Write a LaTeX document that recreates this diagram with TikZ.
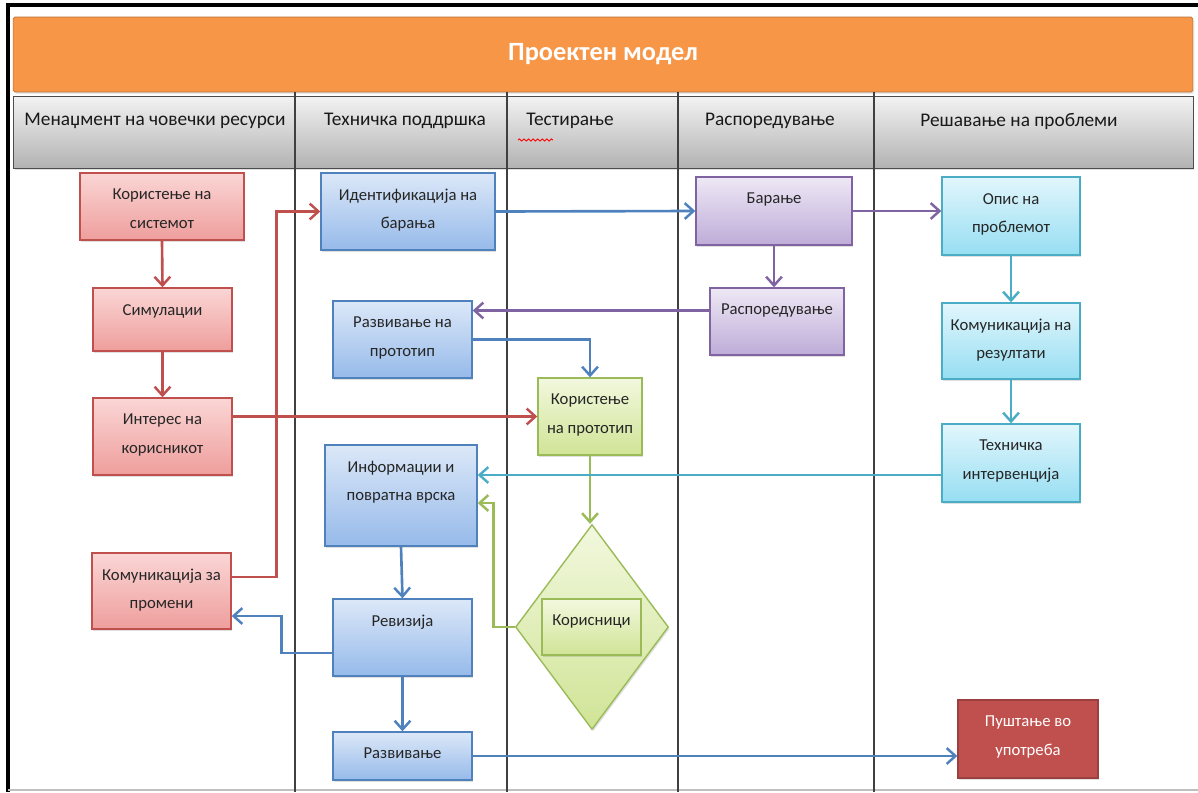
\documentclass[tikz,border=0pt]{standalone}
\usepackage{fontspec}
\setmainfont{Carlito}
\usepackage{tikz}
\usetikzlibrary{shapes.geometric,arrows.meta,shadows,calc,decorations.pathmorphing}

\begin{document}
\begin{tikzpicture}[x=0.02cm,y=-0.02cm,
  box/.style={draw,line width=0.8pt,inner sep=0pt,
    drop shadow={opacity=0.25,shadow xshift=0.8pt,shadow yshift=-1pt}},
  boxtext/.style={anchor=north,align=center,inner sep=4pt,yshift=-0.19cm,
    font=\fontsize{9.5}{16}\selectfont,text=black!85},
  redbox/.style={box,draw=cRed,top color=cRedT,bottom color=cRedB},
  bluebox/.style={box,draw=cBlue,top color=cBlueT,bottom color=cBlueB},
  purplebox/.style={box,draw=cPurple,top color=cPurpleT,bottom color=cPurpleB},
  tealbox/.style={box,draw=cTeal,top color=cTealT,bottom color=cTealB},
  greenbox/.style={box,draw=cGreen,top color=cGreenT,bottom color=cGreenB},
  flow/.style={line width=1.5pt,-{Straight Barb[length=5pt,width=9pt,line width=1.4pt]}},
  lane/.style={line width=0.6pt,draw=black!75},
  lanehead/.style={font=\fontsize{11}{13}\selectfont,text=black!90},
]
%
\useasboundingbox (0,0) rectangle (1198,792);
%
\definecolor{cRed}{RGB}{192,80,77}
\definecolor{cRedT}{RGB}{250,214,213}
\definecolor{cRedB}{RGB}{238,158,156}
\definecolor{cBlue}{RGB}{79,129,189}
\definecolor{cBlueT}{RGB}{220,232,248}
\definecolor{cBlueB}{RGB}{150,186,234}
\definecolor{cPurple}{RGB}{128,100,162}
\definecolor{cPurpleT}{RGB}{238,232,245}
\definecolor{cPurpleB}{RGB}{190,172,216}
\definecolor{cTeal}{RGB}{75,172,198}
\definecolor{cTealT}{RGB}{226,246,252}
\definecolor{cTealB}{RGB}{150,222,242}
\definecolor{cGreen}{RGB}{155,187,89}
\definecolor{cGreenT}{RGB}{242,248,222}
\definecolor{cGreenB}{RGB}{208,228,150}
\definecolor{cOrange}{RGB}{247,150,70}
\definecolor{cDark}{RGB}{192,80,77}
%
% frame and lanes
\draw[line width=1.8pt] (8,792) -- (8,5) -- (1198,5);
\draw[black!25,line width=0.6pt] (8,790) -- (1198,790);
\node[draw=cOrange!75!black,fill=cOrange,rounded corners=1pt,minimum width=23.6cm,minimum height=1.5cm,
  drop shadow={opacity=0.2,shadow xshift=0.8pt,shadow yshift=-1pt}] (top) at (603,54.5) {};
\node[text=white,font=\fontsize{15}{17}\selectfont\bfseries] (title) at (top) {Проектен модел};
\node[draw=black!70,top color=black!5,bottom color=black!30,minimum width=23.6cm,minimum height=1.44cm,
  drop shadow={opacity=0.25,shadow xshift=0.8pt,shadow yshift=-1pt}] (row) at (603,132) {};
\foreach \lx in {295,507,678,874}
  \draw[lane] (\lx,92) -- (\lx,792);
\node[lanehead] (h1) at (155,121) {Менаџмент на човечки ресурси};
\node[lanehead] (h2) at (405,121) {Техничка поддршка};
\node[lanehead] (h3) at (570,121) {Тестирање};
\node[lanehead] (h4) at (770,121) {Распоредување};
\node[lanehead] (h5) at (1019,121) {Решавање на проблеми};
\draw[red,line width=0.5pt,decorate,decoration={snake,amplitude=0.6pt,segment length=2.6pt}] (518,140) -- (553,140);
%
% boxes
\node[redbox,minimum width=3.28cm,minimum height=1.34cm,label={[boxtext]north:Користење на\\системот}] (kor) at (162,206.5) {};
\node[redbox,minimum width=2.78cm,minimum height=1.26cm,label={[boxtext]north:Симулации}] (sim) at (162.5,319.5) {};
\node[redbox,minimum width=2.78cm,minimum height=1.54cm,label={[boxtext]north:Интерес на\\корисникот}] (int) at (162.5,436.5) {};
\node[redbox,minimum width=2.78cm,minimum height=1.52cm,label={[boxtext]north:Комуникација за\\промени}] (kom) at (161.5,591) {};
\node[bluebox,minimum width=3.48cm,minimum height=1.54cm,label={[boxtext]north:Идентификација на\\барања}] (ident) at (408,211.5) {};
\node[bluebox,minimum width=2.78cm,minimum height=1.54cm,label={[boxtext]north:Развивање на\\прототип}] (razproto) at (402.5,339.5) {};
\node[bluebox,minimum width=3.04cm,minimum height=2.02cm,label={[boxtext]north:Информации и\\повратна врска}] (info) at (401,495.5) {};
\node[bluebox,minimum width=2.78cm,minimum height=1.54cm,label={[boxtext]north:Ревизија}] (rev) at (402.5,637.5) {};
\node[bluebox,minimum width=2.78cm,minimum height=0.96cm,label={[boxtext]north:Развивање}] (razv) at (402.5,756) {};
\node[greenbox,minimum width=2.08cm,minimum height=1.54cm,label={[boxtext]north:Користење\\на прототип}] (korproto) at (590,416.5) {};
\node[greenbox,shape=diamond,minimum width=3.06cm,minimum height=4.1cm] (dia) at (592,627) {};
\node[greenbox,minimum width=1.98cm,minimum height=1.12cm,label={[boxtext]north:Корисници}] (korisnici) at (591.5,627) {};
\node[purplebox,minimum width=3.12cm,minimum height=1.36cm,label={[boxtext]north:Барање}] (bar) at (774,211) {};
\node[purplebox,minimum width=2.68cm,minimum height=1.34cm,label={[boxtext]north:Распоредување}] (rasp) at (777,321.5) {};
\node[tealbox,minimum width=2.76cm,minimum height=1.56cm,label={[boxtext]north:Опис на\\проблемот}] (opis) at (1011,216) {};
\node[tealbox,minimum width=2.76cm,minimum height=1.52cm,label={[boxtext]north:Комуникација на\\резултати}] (komrez) at (1011,341) {};
\node[tealbox,minimum width=2.76cm,minimum height=1.56cm,label={[boxtext]north:Техничка\\интервенција}] (teh) at (1011,463) {};
\node[box,draw=cDark!80!black,fill=cDark,minimum width=2.8cm,minimum height=1.56cm,
  label={[boxtext,text=white]north:Пуштање во\\употреба}] (pust) at (1028,739) {};
%
% connectors
\draw[flow,cRed] (kor.south) -- (sim.north);
\draw[flow,cRed] (sim.south) -- (int.north);
\draw[flow,cRed] (int.east |- korproto.west) -- (korproto.west);
\draw[flow,cRed] ([yshift=0.28cm]kom.east) -- ++(45,0) |- (ident.west);
\draw[flow,cBlue] (ident.east) -- (bar.west);
\draw[flow,cPurple] (bar.east) -- (bar.east -| opis.west);
\draw[flow,cPurple] (bar.south) -- (bar.south |- rasp.north);
\draw[flow,cPurple] ([yshift=0.22cm]rasp.west) coordinate (p0) -- (razproto.east |- p0);
\draw[flow,cBlue] (razproto.east) -| (korproto.north);
\draw[flow,cGreen] (korproto.south) -- (korproto.south |- dia.north);
\draw[flow,cGreen] (dia.west) -- ++(-21,0) |- ([yshift=-0.15cm]info.east);
\draw[flow,cTeal] (opis.south) -- (komrez.north);
\draw[flow,cTeal] (komrez.south) -- (teh.north);
\draw[flow,cTeal] ([yshift=-0.24cm]teh.west) coordinate (t0) -- (info.east |- t0);
\draw[flow,cBlue] (info.south) -- (rev.north);
\draw[flow,cBlue] (rev.south) -- (razv.north);
\draw[flow,cBlue] ([yshift=-0.31cm]rev.west) -- ++(-51,0) |- ([yshift=-0.5cm]kom.east);
\draw[flow,cBlue] (razv.east) -- (razv.east -| pust.west);
%
\end{tikzpicture}
\end{document}
